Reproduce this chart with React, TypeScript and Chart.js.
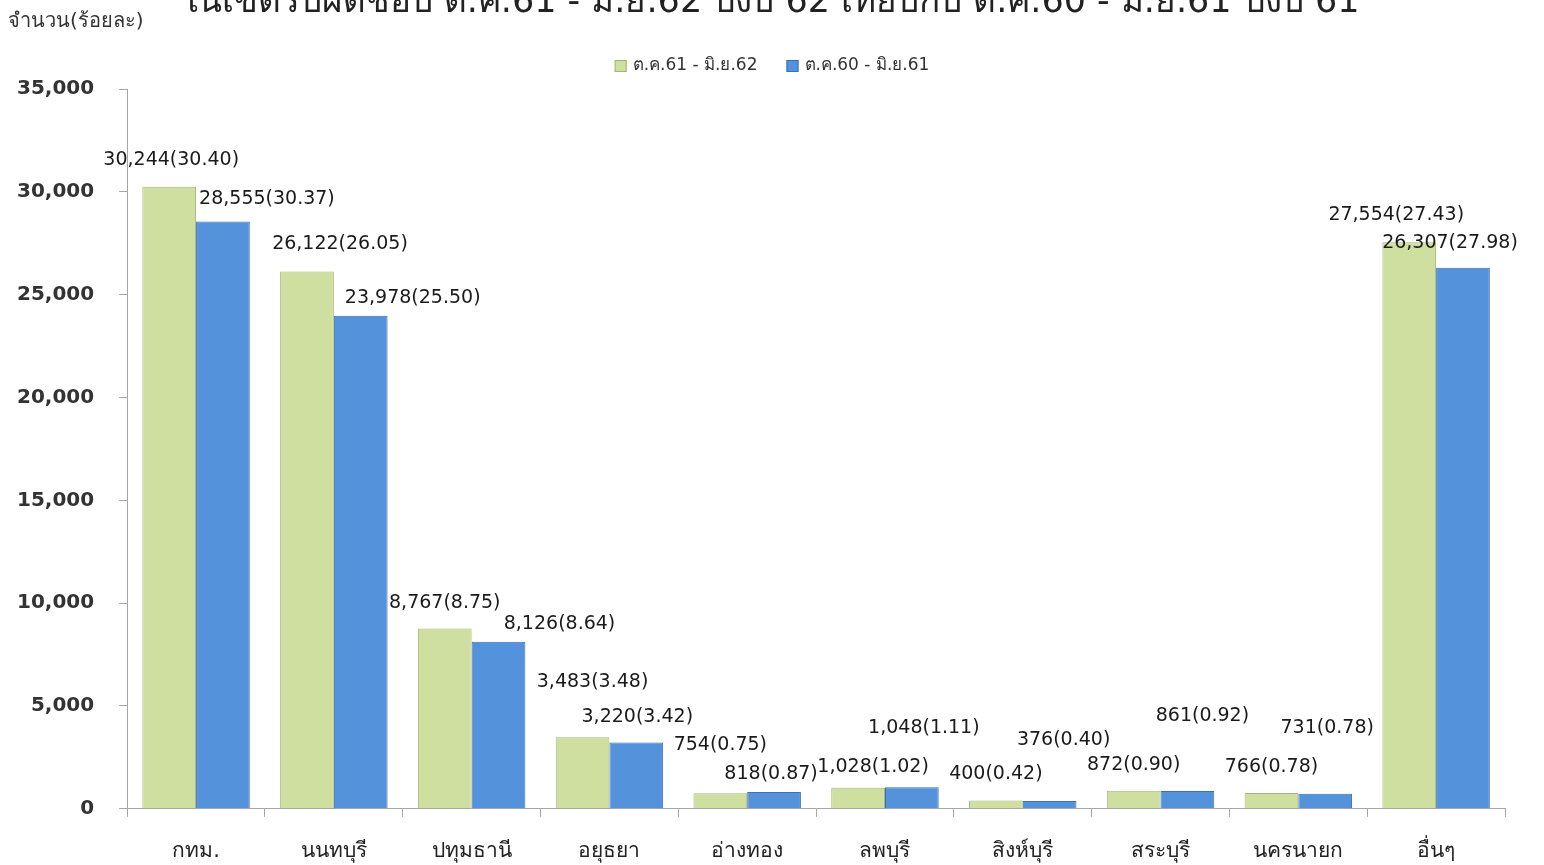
import React, { useEffect, useRef } from 'react';
import { Chart, registerables } from 'chart.js';

Chart.register(...registerables);

const TITLE = 'ในเขตรับผิดชอบ ต.ค.61 - มิ.ย.62 ปีงบ 62 เทียบกับ ต.ค.60 - มิ.ย.61 ปีงบ 61';
const Y_TITLE = 'จำนวน(ร้อยละ)';

const CATEGORIES = ['กทม.', 'นนทบุรี', 'ปทุมธานี', 'อยุธยา', 'อ่างทอง', 'ลพบุรี', 'สิงห์บุรี', 'สระบุรี', 'นครนายก', 'อื่นๆ'];

const SERIES_A_LABEL = 'ต.ค.61 - มิ.ย.62';
const SERIES_A = [30244, 26122, 8767, 3483, 754, 1028, 400, 872, 766, 27554];
const SERIES_A_PCT = [30.4, 26.05, 8.75, 3.48, 0.75, 1.02, 0.42, 0.9, 0.78, 27.43];

const SERIES_B_LABEL = 'ต.ค.60 - มิ.ย.61';
const SERIES_B = [28555, 23978, 8126, 3220, 818, 1048, 376, 861, 731, 26307];
const SERIES_B_PCT = [30.37, 25.5, 8.64, 3.42, 0.87, 1.11, 0.4, 0.92, 0.78, 27.98];

const Y_MIN = 0;
const Y_MAX = 35000;
const Y_STEP = 5000;

// pixel nudges of each value label from the top-centre of its bar
const LABEL_NUDGE_A = [[2, -27], [33, -28], [0, -25], [10, -55], [0, -48], [15, -21], [0, -27], [0, -26], [0, -26], [-13, -27]];
const LABEL_NUDGE_B = [[44, -22], [52, -18], [61, -18], [1, -26], [-3, -18], [12, -59], [14, -61], [15, -75], [2, -66], [-13, -25]];

const FONT = '"DejaVu Sans", "Noto Sans", sans-serif';
const AXIS_COLOR = '#a6a6a6';

const fmt = (v: number) => v.toLocaleString('en-US');

const valueLabels = {
  id: 'valueLabels',
  afterDatasetsDraw(chart: any) {
    const ctx = chart.ctx;
    ctx.save();
    ctx.font = `19px ${FONT}`;
    ctx.fillStyle = '#1a1a1a';
    ctx.textAlign = 'center';
    ctx.textBaseline = 'middle';
    chart.data.datasets.forEach((ds: any, di: number) => {
      const meta = chart.getDatasetMeta(di);
      const pcts = di === 0 ? SERIES_A_PCT : SERIES_B_PCT;
      const nudges = di === 0 ? LABEL_NUDGE_A : LABEL_NUDGE_B;
      meta.data.forEach((bar: any, i: number) => {
        const text = `${fmt(ds.data[i])}(${pcts[i].toFixed(2)})`;
        ctx.fillText(text, bar.x + nudges[i][0], bar.y + nudges[i][1]);
      });
    });
    ctx.restore();
  },
};

// title, axis caption and series key
const headerText = {
  id: 'headerText',
  afterDraw(chart: any) {
    const ctx = chart.ctx;
    ctx.save();
    ctx.fillStyle = '#222';
    ctx.textAlign = 'center';
    ctx.textBaseline = 'alphabetic';
    ctx.font = `35px ${FONT}`;
    ctx.fillText(TITLE, 770, 32);

    ctx.textAlign = 'left';
    ctx.textBaseline = 'middle';
    ctx.font = `20px ${FONT}`;
    ctx.fillStyle = '#333';
    ctx.fillText(Y_TITLE, 8, 42);

    // legend
    const box = 12;
    const gap = 6;
    const spacing = 29;
    const legendY = 86;
    ctx.font = `17px ${FONT}`;
    const items = chart.data.datasets.map((ds: any) => ({
      text: ds.label,
      fill: ds.backgroundColor,
      stroke: ds.borderColor,
      w: box + gap + ctx.measureText(ds.label).width,
    }));
    const total = items.reduce((s: number, it: any) => s + it.w, 0) + spacing * (items.length - 1);
    let x = chart.width / 2 - total / 2;
    items.forEach((it: any) => {
      ctx.fillStyle = it.fill;
      ctx.fillRect(x, legendY - box / 2, box, box);
      ctx.strokeStyle = it.stroke;
      ctx.lineWidth = 1;
      ctx.strokeRect(x + 0.5, legendY - box / 2 + 0.5, box - 1, box - 1);
      ctx.fillStyle = '#333';
      ctx.fillText(it.text, x + box + gap, legendY);
      x += it.w + spacing;
    });
    ctx.restore();
  },
};

export default function App() {
  const ref = useRef<HTMLCanvasElement | null>(null);

  useEffect(() => {
    if (!ref.current) return;
    const chart = new Chart(ref.current, {
      type: 'bar',
      data: {
        labels: CATEGORIES,
        datasets: [
          {
            label: SERIES_A_LABEL,
            data: SERIES_A,
            backgroundColor: '#cfdfa0',
            borderColor: '#a3b676',
            borderWidth: 1,
          },
          {
            label: SERIES_B_LABEL,
            data: SERIES_B,
            backgroundColor: '#5592dc',
            borderColor: '#3a70b5',
            borderWidth: 1,
          },
        ],
      },
      options: {
        responsive: false,
        animation: false,
        devicePixelRatio: 1,
        datasets: {
          bar: { categoryPercentage: 0.78, barPercentage: 1.0 },
        },
        layout: { padding: { top: 109, left: -8, right: 39, bottom: -6 } },
        plugins: {
          title: { display: false },
          tooltip: { enabled: false },
          legend: { display: false },
        },
        scales: {
          x: {
            grid: {
              display: true,
              offset: true,
              drawOnChartArea: false,
              drawTicks: true,
              tickLength: 8,
              color: AXIS_COLOR,
            },
            border: { display: true, color: AXIS_COLOR, width: 1 },
            ticks: {
              color: '#222',
              padding: 22,
              font: { size: 21, family: FONT },
              maxRotation: 0,
            },
          },
          y: {
            min: Y_MIN,
            max: Y_MAX,
            grid: {
              display: true,
              drawOnChartArea: false,
              drawTicks: true,
              tickLength: 8,
              color: AXIS_COLOR,
            },
            border: { display: true, color: AXIS_COLOR, width: 1 },
            ticks: {
              stepSize: Y_STEP,
              color: '#333',
              padding: 25,
              font: { size: 20, family: FONT, weight: 'bold' },
              callback: (v: any) => fmt(Number(v)),
            },
          },
        },
      },
      plugins: [valueLabels, headerText],
    });
    return () => chart.destroy();
  }, []);

  return (
    <div style={{ position: 'fixed', left: 0, top: 0, width: 1544, height: 865, overflow: 'hidden', background: '#fff' }}>
      <canvas ref={ref} width={1544} height={900} style={{ position: 'absolute', left: 0, top: -20, width: 1544, height: 900 }} />
    </div>
  );
}
